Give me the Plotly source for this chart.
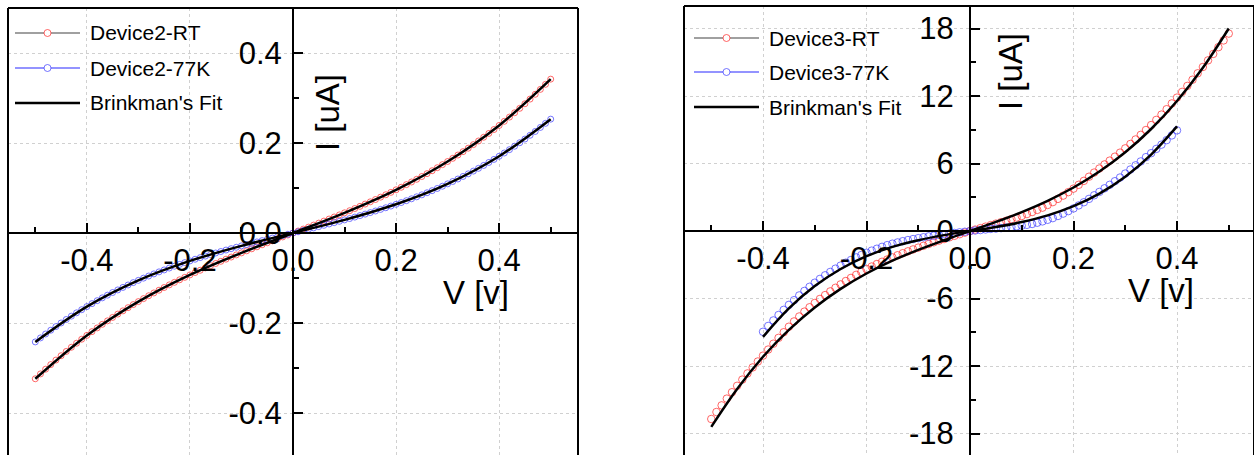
import plotly.graph_objects as go

W, H = 1254, 455

# ---------------- data ----------------
V_D2 = [-0.50, -0.49, -0.48, -0.47, -0.46, -0.45, -0.44, -0.43, -0.42, -0.41,
        -0.40, -0.39, -0.38, -0.37, -0.36, -0.35, -0.34, -0.33, -0.32, -0.31,
        -0.30, -0.29, -0.28, -0.27, -0.26, -0.25, -0.24, -0.23, -0.22, -0.21,
        -0.20, -0.19, -0.18, -0.17, -0.16, -0.15, -0.14, -0.13, -0.12, -0.11,
        -0.10, -0.09, -0.08, -0.07, -0.06, -0.05, -0.04, -0.03, -0.02, -0.01,
        0.00,
        0.01, 0.02, 0.03, 0.04, 0.05, 0.06, 0.07, 0.08, 0.09, 0.10,
        0.11, 0.12, 0.13, 0.14, 0.15, 0.16, 0.17, 0.18, 0.19, 0.20,
        0.21, 0.22, 0.23, 0.24, 0.25, 0.26, 0.27, 0.28, 0.29, 0.30,
        0.31, 0.32, 0.33, 0.34, 0.35, 0.36, 0.37, 0.38, 0.39, 0.40,
        0.41, 0.42, 0.43, 0.44, 0.45, 0.46, 0.47, 0.48, 0.49, 0.50]
I_D2_RT = [-0.3239, -0.3131, -0.3026, -0.2924, -0.2824, -0.2727, -0.2632, -0.2539, -0.2449, -0.2360,
           -0.2275, -0.2191, -0.2109, -0.2029, -0.1952, -0.1876, -0.1802, -0.1730, -0.1659, -0.1591,
           -0.1524, -0.1458, -0.1394, -0.1332, -0.1271, -0.1211, -0.1153, -0.1096, -0.1040, -0.0985,
           -0.0931, -0.0878, -0.0827, -0.0776, -0.0726, -0.0677, -0.0629, -0.0581, -0.0534, -0.0487,
           -0.0442, -0.0396, -0.0351, -0.0307, -0.0262, -0.0218, -0.0174, -0.0131, -0.0087, -0.0044,
           0.0,
           0.0044, 0.0087, 0.0131, 0.0176, 0.0220, 0.0265, 0.0310, 0.0356, 0.0402, 0.0449,
           0.0496, 0.0544, 0.0593, 0.0643, 0.0693, 0.0744, 0.0797, 0.0850, 0.0904, 0.0960,
           0.1017, 0.1075, 0.1134, 0.1194, 0.1256, 0.1319, 0.1384, 0.1451, 0.1519, 0.1589,
           0.1660, 0.1733, 0.1808, 0.1885, 0.1964, 0.2045, 0.2128, 0.2213, 0.2300, 0.2390,
           0.2482, 0.2576, 0.2672, 0.2771, 0.2872, 0.2976, 0.3083, 0.3192, 0.3304, 0.3419]
I_D2_77K = [-0.2420, -0.2331, -0.2244, -0.2160, -0.2079, -0.1999, -0.1922, -0.1847, -0.1774, -0.1704,
            -0.1635, -0.1569, -0.1504, -0.1441, -0.1381, -0.1322, -0.1265, -0.1209, -0.1155, -0.1103,
            -0.1052, -0.1003, -0.0956, -0.0909, -0.0864, -0.0821, -0.0778, -0.0737, -0.0697, -0.0658,
            -0.0620, -0.0583, -0.0547, -0.0512, -0.0478, -0.0444, -0.0411, -0.0379, -0.0348, -0.0317,
            -0.0286, -0.0257, -0.0227, -0.0198, -0.0169, -0.0141, -0.0112, -0.0084, -0.0056, -0.0028,
            0.0,
            0.0028, 0.0056, 0.0084, 0.0113, 0.0142, 0.0171, 0.0200, 0.0230, 0.0260, 0.0291,
            0.0322, 0.0354, 0.0387, 0.0420, 0.0454, 0.0489, 0.0525, 0.0561, 0.0599, 0.0638,
            0.0677, 0.0718, 0.0760, 0.0804, 0.0848, 0.0894, 0.0941, 0.0990, 0.1040, 0.1092,
            0.1145, 0.1200, 0.1257, 0.1315, 0.1376, 0.1438, 0.1502, 0.1568, 0.1636, 0.1706,
            0.1778, 0.1852, 0.1929, 0.2007, 0.2088, 0.2172, 0.2257, 0.2346, 0.2437, 0.2530]
V_D2_FIT = [-0.5, -0.4, -0.3, -0.2, -0.1, 0.0, 0.1, 0.2, 0.3, 0.4, 0.5]
I_D2_RT_FIT = [-0.3239, -0.2275, -0.1524, -0.0931, -0.0442, 0.0, 0.0449, 0.0960, 0.1589, 0.2390, 0.3419]
I_D2_77K_FIT = [-0.2420, -0.1635, -0.1052, -0.0620, -0.0286, 0.0, 0.0291, 0.0638, 0.1092, 0.1706, 0.2530]

V_D3_RT = V_D2
I_D3_RT = [-16.70, -16.08, -15.49, -14.89, -14.32, -13.75, -13.20, -12.65, -12.12, -11.59,
           -11.07, -10.53, -10.01, -9.49, -8.99, -8.50, -8.03, -7.59, -7.16, -6.77,
           -6.39, -6.03, -5.69, -5.36, -5.04, -4.74, -4.44, -4.16, -3.89, -3.63,
           -3.37, -3.15, -2.93, -2.73, -2.53, -2.34, -2.15, -1.97, -1.80, -1.63,
           -1.47, -1.31, -1.15, -1.00, -0.85, -0.71, -0.56, -0.42, -0.28, -0.14,
           0.0,
           0.13, 0.26, 0.39, 0.53, 0.66, 0.79, 0.92, 1.06, 1.20, 1.34,
           1.51, 1.69, 1.88, 2.08, 2.32, 2.57, 2.86, 3.15, 3.46, 3.77,
           4.11, 4.46, 4.83, 5.20, 5.56, 5.92, 6.26, 6.61, 6.97, 7.35,
           7.74, 8.14, 8.55, 8.98, 9.42, 9.88, 10.35, 10.83, 11.34, 11.86,
           12.37, 12.90, 13.45, 14.02, 14.58, 15.17, 15.74, 16.34, 16.94, 17.55]
V_D3_77K = [-0.40, -0.39, -0.38, -0.37, -0.36, -0.35, -0.34, -0.33, -0.32, -0.31,
            -0.30, -0.29, -0.28, -0.27, -0.26, -0.25, -0.24, -0.23, -0.22, -0.21,
            -0.20, -0.19, -0.18, -0.17, -0.16, -0.15, -0.14, -0.13, -0.12, -0.11,
            -0.10, -0.09, -0.08, -0.07, -0.06, -0.05, -0.04, -0.03, -0.02, -0.01,
            0.00,
            0.01, 0.02, 0.03, 0.04, 0.05, 0.06, 0.07, 0.08, 0.09, 0.10,
            0.11, 0.12, 0.13, 0.14, 0.15, 0.16, 0.17, 0.18, 0.19, 0.20,
            0.21, 0.22, 0.23, 0.24, 0.25, 0.26, 0.27, 0.28, 0.29, 0.30,
            0.31, 0.32, 0.33, 0.34, 0.35, 0.36, 0.37, 0.38, 0.39, 0.40]
I_D3_77K = [-8.95, -8.43, -7.94, -7.46, -7.00, -6.56, -6.14, -5.72, -5.32, -4.95,
            -4.59, -4.25, -3.93, -3.63, -3.34, -3.07, -2.81, -2.57, -2.34, -2.13,
            -1.93, -1.74, -1.57, -1.40, -1.25, -1.12, -1.01, -0.90, -0.80, -0.71,
            -0.63, -0.55, -0.47, -0.41, -0.34, -0.28, -0.23, -0.17, -0.11, -0.06,
            0.0,
            0.05, 0.09, 0.14, 0.19, 0.22, 0.26, 0.31, 0.36, 0.42, 0.48,
            0.55, 0.63, 0.74, 0.86, 1.00, 1.15, 1.34, 1.55, 1.77, 2.01,
            2.28, 2.56, 2.86, 3.18, 3.48, 3.80, 4.11, 4.43, 4.76, 5.11,
            5.47, 5.84, 6.19, 6.57, 6.92, 7.30, 7.68, 8.08, 8.50, 8.95]
V_D3_RT_FIT = [-0.50, -0.45, -0.40, -0.35, -0.30, -0.25, -0.20, -0.15, -0.10, -0.05, 0.00,
               0.05, 0.10, 0.15, 0.20, 0.25, 0.30, 0.35, 0.40, 0.45, 0.50]
I_D3_RT_FIT = [-17.4, -14.03, -11.17, -8.78, -6.79, -5.14, -3.77, -2.63, -1.67, -0.81, 0.0,
               0.81, 1.69, 2.69, 3.87, 5.29, 7.00, 9.07, 11.56, 14.51, 18.0]
V_D3_77K_FIT = [-0.40, -0.35, -0.30, -0.25, -0.20, -0.15, -0.10, -0.05, 0.00,
                0.05, 0.10, 0.15, 0.20, 0.25, 0.30, 0.35, 0.40]
I_D3_77K_FIT = [-9.40, -6.87, -4.89, -3.37, -2.23, -1.40, -0.81, -0.36, 0.0,
                0.36, 0.80, 1.39, 2.21, 3.33, 4.83, 6.80, 9.30]

X_TICKS = [-0.4, -0.2, 0.0, 0.2, 0.4]
X_TICK_TEXT = ["-0.4", "-0.2", "0.0", "0.2", "0.4"]
X_MINOR = [-0.5, -0.3, -0.1, 0.1, 0.3, 0.5]
Y2_TICKS = [-0.4, -0.2, 0.0, 0.2, 0.4]
Y2_TICK_TEXT = ["-0.4", "-0.2", "0.0", "0.2", "0.4"]
Y2_MINOR = [-0.3, -0.1, 0.1, 0.3]
Y3_TICKS = [-18, -12, -6, 0, 6, 12, 18]
Y3_TICK_TEXT = ["-18", "-12", "-6", "0", "6", "12", "18"]
Y3_MINOR = [-15, -9, -3, 3, 9, 15]

LEGEND_LEFT = ["Device2-RT", "Device2-77K", "Brinkman's Fit"]
LEGEND_RIGHT = ["Device3-RT", "Device3-77K", "Brinkman's Fit"]
X_TITLE = "V [v]"
Y_TITLE = "I [uA]"

# ---------------- styling ----------------
RED = "rgba(255,40,40,0.7)"
BLUE = "rgba(60,60,255,0.7)"
FONT = "Liberation Sans, Arial, sans-serif"


def fx(p):
    return p / W


def fy(p):
    return 1 - p / H


fig = go.Figure()


def open_marker(color, size):
    return dict(symbol="circle-open", size=size, color=color, line=dict(width=1, color=color))


fit_line = dict(color="black", width=2.5, shape="spline")

# left panel
fig.add_trace(go.Scatter(x=V_D2, y=I_D2_RT, mode="markers", marker=open_marker(RED, 6), xaxis="x", yaxis="y"))
fig.add_trace(go.Scatter(x=V_D2, y=I_D2_77K, mode="markers", marker=open_marker(BLUE, 6), xaxis="x", yaxis="y"))
fig.add_trace(go.Scatter(x=V_D2_FIT, y=I_D2_RT_FIT, mode="lines", line=fit_line, xaxis="x", yaxis="y"))
fig.add_trace(go.Scatter(x=V_D2_FIT, y=I_D2_77K_FIT, mode="lines", line=fit_line, xaxis="x", yaxis="y"))
# right panel
fig.add_trace(go.Scatter(x=V_D3_RT, y=I_D3_RT, mode="markers", marker=open_marker(RED, 7.5), xaxis="x2", yaxis="y2"))
fig.add_trace(go.Scatter(x=V_D3_77K, y=I_D3_77K, mode="markers", marker=open_marker(BLUE, 7.5), xaxis="x2", yaxis="y2"))
fig.add_trace(go.Scatter(x=V_D3_RT_FIT, y=I_D3_RT_FIT, mode="lines", line=fit_line, xaxis="x2", yaxis="y2"))
fig.add_trace(go.Scatter(x=V_D3_77K_FIT, y=I_D3_77K_FIT, mode="lines", line=fit_line, xaxis="x2", yaxis="y2"))

tickfont = dict(family=FONT, size=31, color="black")
common = dict(showline=True, linecolor="black", linewidth=2, ticks="inside", ticklen=9, tickwidth=2,
              tickcolor="black", showgrid=True, gridcolor="#d0d0d0", griddash="dot", gridwidth=1,
              zeroline=False, tickfont=tickfont, anchor="free", fixedrange=True, tickmode="array")
minor_style = dict(ticks="inside", ticklen=5, tickwidth=2, tickcolor="black", showgrid=False, tickmode="array")

fig.update_layout(
    width=W, height=H, margin=dict(l=0, r=0, t=0, b=0),
    paper_bgcolor="white", plot_bgcolor="white", showlegend=False,
    font=dict(family=FONT, color="black"),
    xaxis=dict(domain=[fx(8), fx(578)], range=[-0.553, 0.553], position=fy(233),
               tickvals=X_TICKS, ticktext=X_TICK_TEXT, ticklabelstandoff=0,
               minor=dict(tickvals=X_MINOR, **minor_style), **common),
    yaxis=dict(domain=[0, fy(8)], range=[-0.4933, 0.5], position=fx(293),
               tickvals=Y2_TICKS, ticktext=Y2_TICK_TEXT, ticklabelstandoff=4,
               minor=dict(tickvals=Y2_MINOR, **minor_style), **common),
    xaxis2=dict(domain=[fx(684), 1.0], range=[-0.5527, 0.5488], position=fy(231),
                tickvals=X_TICKS, ticktext=X_TICK_TEXT, ticklabelstandoff=0,
                minor=dict(tickvals=X_MINOR, **minor_style), **common),
    yaxis2=dict(domain=[0, fy(6)], range=[-19.9, 20.0], position=fx(970),
                tickvals=Y3_TICKS, ticktext=Y3_TICK_TEXT, ticklabelstandoff=9,
                minor=dict(tickvals=Y3_MINOR, **minor_style), **common),
)

# frames (left, top, right sides)
shapes = []
for xa, ya in (("x", "y"), ("x2", "y2")):
    for (x0, y0, x1, y1) in ((0, 0, 0, 1), (0, 1, 1, 1), (1, 1, 1, 0)):
        shapes.append(dict(type="line", xref=f"{xa} domain", yref=f"{ya} domain",
                           x0=x0, y0=y0, x1=x1, y1=y1, line=dict(color="black", width=2)))

annotations = []
# axis titles
title_font = dict(family=FONT, size=33, color="black")
for (cx, cy) in ((327, 112), (1010, 72)):
    annotations.append(dict(text=Y_TITLE, x=fx(cx), y=fy(cy), xref="paper", yref="paper",
                            textangle=-90, showarrow=False, xanchor="center", yanchor="middle",
                            font=title_font))
for (cx, cy) in ((476, 292), (1161, 290)):
    annotations.append(dict(text=X_TITLE, x=fx(cx), y=fy(cy), xref="paper", yref="paper",
                            showarrow=False, xanchor="center", yanchor="middle", font=title_font))

# hand-drawn legend boxes (long sample lines like the original)
leg_font = dict(family=FONT, size=21, color="black")
legend_specs = [
    (LEGEND_LEFT, 15, 80, 88, (33, 68, 103)),
    (LEGEND_RIGHT, 694, 759, 767, (38, 72, 107)),
]
line_styles = [("#808080", 1.5, RED), ("#6f6fff", 1.5, BLUE), ("black", 2.5, None)]
for labels, lx0, lx1, tx, rows in legend_specs:
    for label, ry, (lc, lw, mc) in zip(labels, rows, line_styles):
        shapes.append(dict(type="line", xref="paper", yref="paper", x0=fx(lx0), x1=fx(lx1),
                           y0=fy(ry), y1=fy(ry), line=dict(color=lc, width=lw)))
        if mc is not None:
            cxp = fx((lx0 + lx1) / 2)
            shapes.append(dict(type="circle", xref="paper", yref="paper", xsizemode="pixel",
                               ysizemode="pixel", xanchor=cxp, yanchor=fy(ry),
                               x0=-3.5, x1=3.5, y0=-3.5, y1=3.5,
                               line=dict(color=mc, width=1), fillcolor="white"))
        annotations.append(dict(text=label, x=fx(tx), y=fy(ry), xref="paper", yref="paper",
                                showarrow=False, xanchor="left", yanchor="middle", font=leg_font))

fig.update_layout(shapes=shapes, annotations=annotations)
fig.write_html("out.html")
